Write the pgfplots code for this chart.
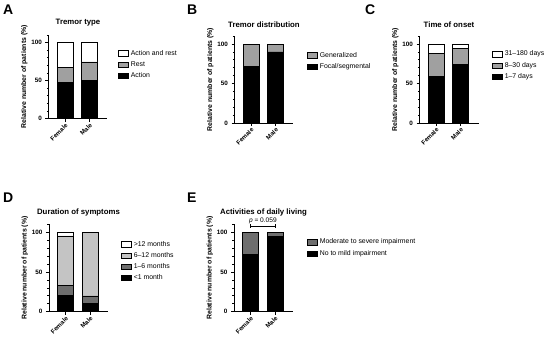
\documentclass[border=0pt]{standalone}
\usepackage{pgfplots}
\pgfplotsset{compat=1.18}
\usepackage{fontspec}
\setmainfont{Liberation Sans}
\definecolor{gM}{HTML}{A0A0A0}
\definecolor{gL}{HTML}{C4C4C4}
\definecolor{gD}{HTML}{6E6E6E}
\pgfplotsset{
  panel/.style={
    scale only axis, width=59pt,
    xmin=-0.68, xmax=1.73, ymin=0, ymax=110,
    axis x line*=bottom, axis y line*=left,
    axis line style={line width=0.8pt, black},
    ybar stacked, bar width=16pt,
    xtick={0,1}, xticklabels={Female,Male},
    ytick={0,50,100}, minor ytick={10,20,30,40,60,70,80,90,110},
    tick align=outside, major tick length=3pt, minor tick length=1.6pt,
    every tick/.style={line width=0.7pt, black},
    /pgf/number format/assume math mode=true,
    yticklabel style={font=\bfseries\fontsize{6.3}{7}\selectfont},
    xticklabel style={font=\bfseries\fontsize{6.2}{7}\selectfont, rotate=45, anchor=east, inner sep=1pt, yshift=-3pt},
    ylabel={Relative number of patients (\%)},
    ylabel style={at={(axis description cs:-0.41,0.5)}, anchor=center, rotate=0, font=\bfseries\fontsize{6.9}{7}\selectfont},
    title style={at={(axis description cs:0.5,1)}, anchor=south, yshift=-1pt, font=\bfseries\fontsize{7.8}{8}\selectfont},
    clip=false,
    reverse legend,
    legend cell align=left,
    legend style={draw=none, fill=none, inner sep=0pt, anchor=north west,
      font=\fontsize{6.9}{8}\selectfont, row sep=0.8pt,
      /tikz/every even column/.append style={column sep=1.5pt}},
    every axis plot post/.append style={draw=black, line width=0.6pt,
      legend image code/.code={\draw[##1, line width=0.6pt] (0pt,-2.6pt) rectangle (10pt,2.6pt);}},
  }
}
\begin{document}
\begin{tikzpicture}
\path[use as bounding box] (0,0) rectangle (550pt,341pt);
% Panel letters
\node[anchor=base west, inner sep=0, font=\bfseries\fontsize{14}{14}\selectfont] at (3pt,326pt) {A};
\node[anchor=base west, inner sep=0, font=\bfseries\fontsize{14}{14}\selectfont] at (187pt,326pt) {B};
\node[anchor=base west, inner sep=0, font=\bfseries\fontsize{14}{14}\selectfont] at (365pt,326pt) {C};
\node[anchor=base west, inner sep=0, font=\bfseries\fontsize{14}{14}\selectfont] at (3pt,139pt) {D};
\node[anchor=base west, inner sep=0, font=\bfseries\fontsize{14}{14}\selectfont] at (187pt,139pt) {E};

% A
\begin{axis}[panel, at={(48.5pt,222.5pt)}, anchor=south west, height=83.6pt,
  title={Tremor type}, legend style={at={(1.178,0.845)}}]
\addplot[fill=black] coordinates {(0,47.5) (1,50)};
\addplot[fill=gM] coordinates {(0,19.5) (1,24.5)};
\addplot[fill=white] coordinates {(0,33) (1,25.5)};
\legend{Action, Rest, Action and rest}
\end{axis}

% B
\begin{axis}[panel, at={(234.5pt,218pt)}, anchor=south west, height=86.9pt,
  title={Tremor distribution}, legend style={at={(1.229,0.842)}}]
\addplot[fill=black] coordinates {(0,72) (1,90)};
\addplot[fill=gM] coordinates {(0,28) (1,10)};
\legend{Focal/segmental, Generalized}
\end{axis}

% C
\begin{axis}[panel, at={(419.5pt,218pt)}, anchor=south west, height=86.9pt,
  title={Time of onset}, legend style={at={(1.229,0.854)}}]
\addplot[fill=black] coordinates {(0,59) (1,74)};
\addplot[fill=gM] coordinates {(0,29) (1,20)};
\addplot[fill=white] coordinates {(0,12) (1,6)};
\legend{1–7 days, 8–30 days, 31–180 days}
\end{axis}

% D
\begin{axis}[panel, at={(49pt,29.3pt)}, anchor=south west, height=87.3pt,
  title={Duration of symptoms}, legend style={at={(1.22,0.835)}}]
\addplot[fill=black] coordinates {(0,20.5) (1,10)};
\addplot[fill=gD] coordinates {(0,12.5) (1,10)};
\addplot[fill=gL] coordinates {(0,62.5) (1,80)};
\addplot[fill=white] coordinates {(0,4.5)};
\legend{<1 month, 1–6 months, 6–12 months, >12 months}
\end{axis}

% E
\begin{axis}[panel, at={(234pt,29.3pt)}, anchor=south west, height=87.3pt,
  title={Activities of daily living}, legend style={at={(1.237,0.858)}}]
\addplot[fill=black] coordinates {(0,72) (1,95)};
\addplot[fill=gD] coordinates {(0,28) (1,5)};
\legend{No to mild impairment, Moderate to severe impairment}
\draw[line width=0.8pt, black] (axis cs:0,105.5) -- (axis cs:0,107.8) -- (axis cs:1,107.8) -- (axis cs:1,105.5);
\draw[line width=0.8pt, black] (axis cs:0,107.8) -- (axis cs:0,110) (axis cs:1,107.8) -- (axis cs:1,110);
\node[anchor=south, inner sep=1pt, font=\fontsize{6.6}{7}\selectfont] at (axis cs:0.5,109.3) {\textit{p} = 0.059};
\end{axis}
\end{tikzpicture}
\end{document}
